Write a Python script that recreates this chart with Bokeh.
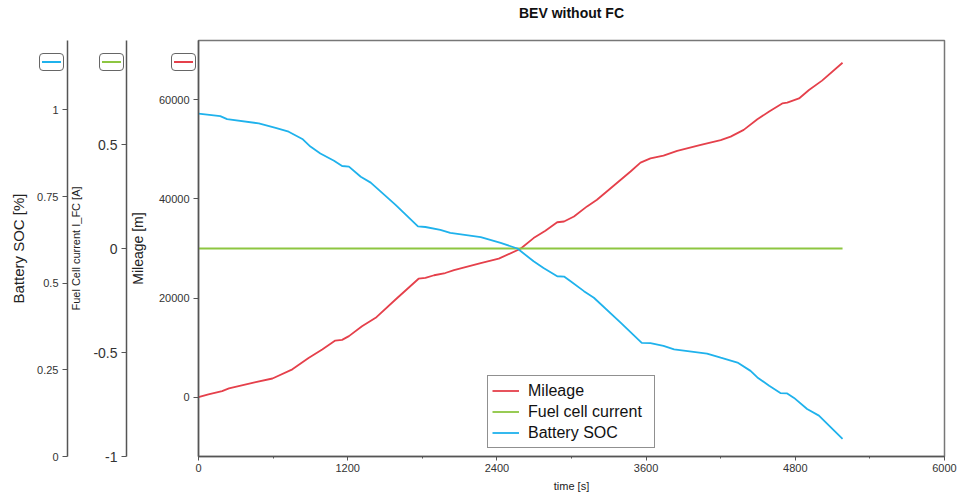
from bokeh.plotting import figure
from bokeh.models import (Range1d, LinearAxis, FixedTicker, CustomJSTickFormatter,
                          Legend, LegendItem, Div)
from bokeh.layouts import column
from bokeh.embed import file_html
from bokeh.resources import INLINE

# ---------------- data ----------------
time_mileage = [0, 80, 190, 245, 460, 595, 755, 885, 995, 1100, 1155, 1210, 1315, 1425,
                1585, 1770, 1825, 1895, 1985, 2055, 2270, 2415, 2590, 2695, 2790, 2885,
                2940, 3020, 3125, 3205, 3475, 3555, 3635, 3740, 3850, 4040, 4200, 4280,
                4385, 4495, 4590, 4695, 4735, 4830, 4910, 5015, 5180]
mileage = [0, 550, 1200, 1750, 3000, 3750, 5600, 7900, 9600, 11400, 11550, 12300, 14300,
           16000, 19700, 23900, 24050, 24600, 25050, 25650, 27050, 27950, 29950, 32100,
           33600, 35300, 35450, 36450, 38500, 39850, 45550, 47350, 48200, 48750, 49700,
           50900, 51900, 52600, 53950, 56100, 57650, 59300, 59450, 60300, 62000, 63900,
           67500]

time_soc = [0, 175, 230, 485, 620, 725, 835, 900, 980, 1090, 1155, 1210, 1305, 1385, 1585,
            1765, 1825, 1945, 2025, 2270, 2430, 2565, 2695, 2775, 2885, 2940, 2990, 3100,
            3180, 3395, 3565, 3635, 3740, 3825, 4090, 4200, 4335, 4440, 4495, 4590, 4680,
            4735, 4790, 4895, 4990, 5180]
battery_soc = [0.989, 0.982, 0.973, 0.961, 0.948, 0.937, 0.916, 0.894, 0.874, 0.853, 0.838,
               0.836, 0.807, 0.790, 0.726, 0.664, 0.662, 0.654, 0.645, 0.633, 0.616, 0.600,
               0.563, 0.544, 0.520, 0.519, 0.506, 0.477, 0.458, 0.386, 0.328, 0.327, 0.319,
               0.309, 0.297, 0.285, 0.271, 0.247, 0.228, 0.204, 0.183, 0.182, 0.169, 0.137,
               0.118, 0.051]

time_fc = [0, 5180]
fuel_cell_current = [0, 0]

x_ticks = [0, 1200, 2400, 3600, 4800, 6000]
x_minor_ticks = [600, 1800, 3000, 4200, 5400]
mileage_ticks = [0, 20000, 40000, 60000]
fc_ticks = [-1, -0.5, 0, 0.5]
soc_ticks = [0, 0.25, 0.5, 0.75, 1]

series_names = ["Mileage", "Fuel cell current", "Battery SOC"]
title_text = "BEV without FC"

# ---------------- style ----------------
RED = "#e5404b"
GREEN = "#8dc641"
BLUE = "#1fb2ec"
AXIS_COLOR = "#555555"
FONT = "Liberation Sans"
TEXT = "#333333"

p = figure(width=958, height=494, output_backend="svg", toolbar_location=None,
           x_range=Range1d(0, 6000), y_range=Range1d(-12000, 72000),
           min_border_left=198, min_border_right=14, min_border_top=39,
           min_border_bottom=38, title=title_text)
p.extra_y_ranges = {"fc": Range1d(-1, 1), "soc": Range1d(0, 1.2)}

p.xgrid.grid_line_color = None
p.ygrid.grid_line_color = None
p.outline_line_color = "#777777"
p.outline_line_width = 1.5
p.background_fill_color = "white"

p.title.align = "center"
p.title.text_font = FONT
p.title.text_font_size = "14px"
p.title.text_font_style = "bold"
p.title.text_color = "#111111"
p.title.standoff = 4

fmt = CustomJSTickFormatter(code="return tick.toString()")


def style_axis(ax, tick_size, label_size, label_standoff):
    ax.axis_line_color = AXIS_COLOR
    ax.axis_line_width = 1.5
    ax.major_tick_line_color = AXIS_COLOR
    ax.major_tick_out = 5
    ax.major_tick_in = 0
    ax.minor_tick_line_color = None
    ax.major_label_text_font = FONT
    ax.major_label_text_font_size = tick_size
    ax.major_label_text_color = TEXT
    ax.major_label_standoff = 4
    ax.axis_label_text_font = FONT
    ax.axis_label_text_font_size = label_size
    ax.axis_label_text_font_style = "normal"
    ax.axis_label_text_color = "#222222"
    ax.axis_label_standoff = label_standoff
    ax.formatter = fmt


# x axis
xa = p.xaxis[0]
xa.ticker = FixedTicker(ticks=x_ticks, minor_ticks=x_minor_ticks)
style_axis(xa, "11px", "11px", 5)
xa.axis_label = "time [s]"
xa.major_tick_out = 4
xa.minor_tick_line_color = AXIS_COLOR
xa.minor_tick_out = 2
xa.minor_tick_in = 0
xa.major_label_standoff = 3

# empty band between the title and the frame
gap_axis = LinearAxis(ticker=FixedTicker(ticks=[]), axis_line_color=None,
                      major_tick_line_color=None, minor_tick_line_color=None,
                      major_tick_out=0, major_tick_in=0, minor_tick_out=0,
                      major_label_standoff=0, axis_label=" ",
                      axis_label_text_font_size="1px", axis_label_standoff=14)
p.add_layout(gap_axis, "above")

# mileage axis (primary)
ya = p.yaxis[0]
ya.ticker = FixedTicker(ticks=mileage_ticks)
style_axis(ya, "11px", "14px", 10)
ya.axis_label = "Mileage [m]"

fc_axis = LinearAxis(y_range_name="fc", ticker=FixedTicker(ticks=fc_ticks),
                     axis_label="Fuel Cell current I_FC [A]")
style_axis(fc_axis, "14px", "11px", 8)
p.add_layout(fc_axis, "left")

soc_axis = LinearAxis(y_range_name="soc", ticker=FixedTicker(ticks=soc_ticks),
                      axis_label="Battery SOC [%]")
style_axis(soc_axis, "11px", "15px", 7)
p.add_layout(soc_axis, "left")

# lines
r_mil = p.line(time_mileage, mileage, line_color=RED, line_width=1.8)
r_fc = p.line(time_fc, fuel_cell_current, line_color=GREEN, line_width=1.8,
              y_range_name="fc")
r_soc = p.line(time_soc, battery_soc, line_color=BLUE, line_width=1.8,
               y_range_name="soc")

legend = Legend(items=[LegendItem(label=series_names[0], renderers=[r_mil]),
                       LegendItem(label=series_names[1], renderers=[r_fc]),
                       LegendItem(label=series_names[2], renderers=[r_soc])],
                location=(289, 8), margin=0, padding=4, spacing=0,
                glyph_width=27, glyph_height=21, label_height=21, label_width=122,
                label_standoff=9, label_text_font=FONT, label_text_font_size="16px",
                label_text_color="#111111", border_line_color="#222222",
                border_line_width=1, background_fill_color="white",
                background_fill_alpha=1)
p.add_layout(legend)

# small key boxes above each y axis (decoration, overlaid on the axis area)
swatch_colors = [BLUE, GREEN, RED]
swatch_left = [34, 94, 166]
html = ""
for left, col in zip(swatch_left, swatch_colors):
    html += ('<div style="position:absolute;left:%dpx;top:48px;width:25px;height:18px;'
             'box-sizing:border-box;border:1px solid #666;border-radius:4px;'
             'background:#fff;"><div style="position:absolute;left:2px;right:2px;'
             'top:7px;height:2px;background:%s;"></div></div>' % (left, col))
swatch_div = Div(text=html, width=200, height=80,
                 styles={"position": "absolute", "left": "0px", "top": "0px"})

layout = column(p, swatch_div)
open("out.html", "w").write(file_html(layout, INLINE))
